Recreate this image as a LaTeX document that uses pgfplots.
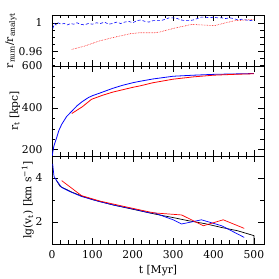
\documentclass[border=0pt]{standalone}
\usepackage{fontspec}
\setmainfont{DejaVu Serif}
\usepackage{pgfplots}
\pgfplotsset{compat=1.18}
\begin{document}
\begin{tikzpicture}
\pgfplotsset{
  panel/.style={
    scale only axis, width=212bp,
    xmin=0, xmax=525,
    xtick={0,100,...,500}, minor x tick num=4,
    tick align=inside, tick pos=both,
    major tick length=6bp, minor tick length=3.5bp,
    every tick/.style={black, line width=0.5pt},
    axis line style={line width=0.7pt},
    /pgf/number format/assume math mode=true,
    tick label style={font=\fontsize{10.8}{13}\selectfont},
    label style={font=\fontsize{10.8}{13}\selectfont},
    yticklabel style={xshift=-6bp},
    xticklabel style={yshift=-3bp},
    ylabel shift=-5pt,
  }
}
\begin{axis}[panel, name=a1, height=51bp,
  ymin=0.939, ymax=1.011, ytick={0.96,1}, minor ytick={0.94,0.95,...,1.01},
  yticklabels={0.96,1},
  xticklabels=\empty,
  ylabel={r\textsubscript{num}/r\textsubscript{analyt}}]
\addplot[blue, densely dashed, line width=0.6pt] coordinates {
(2,0.992)(6,0.999)(10,0.997)(15,1.000)(22,0.998)(30,0.999)(38,0.997)(46,0.999)
(54,0.998)(62,1.000)(70,0.998)(80,0.997)(90,0.999)(100,0.998)(110,1.000)(120,0.999)
(130,1.001)(140,0.998)(150,0.999)(160,1.001)(170,0.999)(180,1.001)(190,1.002)(200,1.000)
(210,1.003)(220,1.004)(230,1.002)(240,1.001)(250,1.003)(260,1.003)(270,1.003)(280,1.005)
(290,1.007)(300,1.007)(310,1.006)(320,1.004)(330,1.003)(340,1.003)(350,1.004)(360,1.006)
(370,1.008)(380,1.008)(390,1.007)(400,1.008)(410,1.007)(420,1.007)(430,1.006)(440,1.007)
(450,1.006)(460,1.004)(470,1.005)(480,1.004)(490,1.003)(500,1.004)};
\addplot[red, densely dotted, line width=0.6pt] coordinates {
(49,0.9624)(80,0.967)(115,0.974)(150,0.979)(193,0.9845)(218,0.986)(255,0.986)(267,0.987)
(300,0.992)(346,0.9977)(370,0.997)(403,0.996)(430,1.000)(453,1.003)(480,1.004)(500,1.005)};
\end{axis}
\begin{axis}[panel, name=a2, height=90bp, at={(a1.south west)}, anchor=north west,
  ymin=170, ymax=600, ytick={200,400,600}, minor ytick={150,200,...,600},
  xticklabels=\empty,
  ylabel={r\textsubscript{t} [kpc]}]
\addplot[blue, line width=0.8pt] coordinates {
(1,172)(2,190)(5,220)(11.6,258)(17,292)(24,321)(36,358)(49,384)(62,410)(75,430)(90,449)(100,458)
(119,471)(150,493)(175,508)(200,520)(218,527)(250,538)(300,551)(350,556)(400,560)(450,562)(500,564)};
\addplot[red, line width=0.8pt] coordinates {
(49,373)(75,405)(98,441)(125,460)(150,475)(200,498)(218,505)(250,520)(300,537)(350,548)
(400,556)(450,560)(500,563)};
\end{axis}
\begin{axis}[panel, name=a3, height=88bp, at={(a2.south west)}, anchor=north west,
  ymin=1, ymax=5, ytick={2,4}, minor ytick={1,3,5},
  xlabel={t [Myr]},
  ylabel={lg(v\textsubscript{t}) [km s\textsuperscript{−1}]}]
\addplot[black, line width=0.7pt] coordinates {
(10,3.92)(20,3.62)(50,3.35)(75,3.17)(100,3.02)(150,2.78)(200,2.58)(255,2.36)(300,2.2)
(337,2.06)(380,1.92)(420,1.75)(460,1.6)(500,1.38)(500,0.5)};
\addplot[blue, line width=0.7pt] coordinates {
(1.7,4.64)(5,4.07)(11.5,3.88)(24,3.57)(44.5,3.38)(73,3.16)(119,2.92)(160,2.74)(201,2.59)
(243,2.41)(255,2.41)(267,2.32)(300,2.1)(321,1.91)(345,2.0)(370,2.1)(420,1.83)(476,1.3)};
\addplot[red, line width=0.7pt] coordinates {
(24,3.88)(73,3.2)(119,2.95)(180,2.7)(243,2.45)(255,2.41)(321,2.32)(375,1.83)(424,2.1)(476,1.71)};
\end{axis}
\pgfresetboundingbox
\path ([shift={(-52bp,15bp)}]a1.north west) rectangle ([shift={(15bp,-35bp)}]a3.south east);
\end{tikzpicture}
\end{document}
